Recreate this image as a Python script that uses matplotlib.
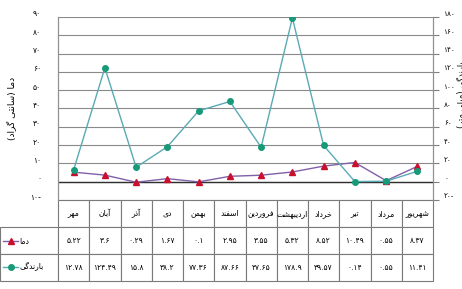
import numpy as np
import matplotlib
matplotlib.use('Agg')
import matplotlib.pyplot as plt
import matplotlib.transforms as mtransforms
from matplotlib.lines import Line2D

plt.rcParams['font.family'] = ['DejaVu Sans']

# داده ها
months = ['مهر', 'آبان', 'آذر', 'دی', 'بهمن', 'اسفند', 'فروردین',
          'اردیبهشت', 'خرداد', 'تیر', 'مرداد', 'شهریور']
temp = [5.22, 3.6, -0.29, 1.67, -0.1, 2.95, 3.55, 5.32, 8.52, 10.49, 0.55, 8.37]
rain = [12.78, 124.49, 15.8, 38.2, 77.36, 87.66, 37.65, 178.9, 39.57, 0.14, 0.55, 11.41]
left_ticks = list(range(-10, 100, 10))
right_ticks = list(range(-20, 200, 20))

# شکل دادن حروف فارسی (matplotlib خودش این کار را نمی کند)
FORMS = {
    'ا': ('\uFE8D', '\uFE8E'), 'آ': ('\uFE81', '\uFE82'),
    'د': ('\uFEA9', '\uFEAA'), 'ذ': ('\uFEAB', '\uFEAC'),
    'ر': ('\uFEAD', '\uFEAE'), 'ز': ('\uFEAF', '\uFEB0'),
    'و': ('\uFEED', '\uFEEE'),
    'ب': ('\uFE8F', '\uFE90', '\uFE91', '\uFE92'),
    'پ': ('\uFB56', '\uFB57', '\uFB58', '\uFB59'),
    'ت': ('\uFE95', '\uFE96', '\uFE97', '\uFE98'),
    'خ': ('\uFEA5', '\uFEA6', '\uFEA7', '\uFEA8'),
    'س': ('\uFEB1', '\uFEB2', '\uFEB3', '\uFEB4'),
    'ش': ('\uFEB5', '\uFEB6', '\uFEB7', '\uFEB8'),
    'ف': ('\uFED1', '\uFED2', '\uFED3', '\uFED4'),
    'گ': ('\uFB92', '\uFB93', '\uFB94', '\uFB95'),
    'ل': ('\uFEDD', '\uFEDE', '\uFEDF', '\uFEE0'),
    'م': ('\uFEE1', '\uFEE2', '\uFEE3', '\uFEE4'),
    'ن': ('\uFEE5', '\uFEE6', '\uFEE7', '\uFEE8'),
    'ه': ('\uFEE9', '\uFEEA', '\uFEEB', '\uFEEC'),
    'ی': ('\uFBFC', '\uFBFD', '\uFBFE', '\uFBFF'),
}


def fa(s):
    out = []
    for i, c in enumerate(s):
        if c not in FORMS:
            out.append({'(': ')', ')': '('}.get(c, c))
            continue
        p = s[i - 1] if i > 0 else ''
        n = s[i + 1] if i < len(s) - 1 else ''
        pj = p in FORMS and len(FORMS[p]) == 4
        nj = n in FORMS and len(FORMS[c]) == 4
        f = FORMS[c]
        if pj and nj:
            out.append(f[3])
        elif pj:
            out.append(f[1])
        elif nj:
            out.append(f[2])
        else:
            out.append(f[0])
    return ''.join(reversed(out))


DIG = str.maketrans('0123456789', '۰۱۲۳۴۵۶۷۸۹')


def num(v):
    t = ('%g' % abs(v)).translate(DIG)
    return t + '-' if v < 0 else t


fig = plt.figure(figsize=(4.62, 2.89), dpi=100)
W, H = 462, 289
ax = fig.add_axes([58 / W, (H - 200) / H, 375 / W, 183 / H])
ax2 = ax.twinx()

x = np.arange(len(months))
ax.plot(x, temp, color='#8060a8', lw=1, marker='^', ms=3.8,
        mfc='#c8102e', mec='#c8102e', zorder=3)
ax2.plot(x, rain, color='#5aaab4', lw=1, marker='o', ms=4,
         mfc='#169a78', mec='#169a78', zorder=3)

ax.set_xlim(-0.5, len(months) - 0.5)
ax.set_ylim(-10, 90)
ax2.set_ylim(-20, 180)
ax.set_yticks(left_ticks)
ax.set_yticklabels([num(v) for v in left_ticks], fontsize=5.5)
ax2.set_yticks(right_ticks)
ax2.set_yticklabels([num(v) for v in right_ticks], fontsize=5.2)
ax.tick_params(axis='y', length=0, pad=12)
ax2.tick_params(axis='y', length=4, width=0.8, color='#808080', pad=4)
ax.tick_params(axis='x', length=0, labelbottom=False)
ax.yaxis.grid(True, color='#8a8a8a', lw=0.8)
ax.axhline(0, color='#303030', lw=1)

# برچسب ها کمی بالاتر از خطوط
up = mtransforms.ScaledTranslation(0, 4 / 100, fig.dpi_scale_trans)
for lab in ax.get_yticklabels() + ax2.get_yticklabels():
    lab.set_transform(lab.get_transform() + up)

for a in (ax, ax2):
    a.spines['top'].set_visible(False)
    a.spines['bottom'].set_visible(False)
    a.spines['left'].set_color('#909090')
    a.spines['right'].set_color('#909090')

ax.set_ylabel(fa('دما (سانتی گراد)'), fontsize=6.5, labelpad=10)
fig.text(457 / W, (H - 95) / H, fa('بارندگی (میلی متر)'), rotation=90,
         fontsize=6, ha='left', va='center')

# جدول زیر نمودار
cells = [[''] + [num(v).replace('-', '') for v in temp],
         [''] + [num(v) for v in rain]]
tab = ax.table(cellText=cells, colLabels=[''] + [fa(m) for m in months],
               cellLoc='center', colWidths=[58] + [375 / 12] * 12,
               bbox=[-58 / 375, -81 / 183, 433 / 375, 81 / 183])
tab.auto_set_font_size(False)
tab.set_fontsize(5.5)
for (r, c), cell in tab.get_celld().items():
    cell.set_edgecolor('#7a7a7a')
    cell.set_linewidth(0.8)
tab[0, 0].visible_edges = ''

# کلید راهنما در ستون اول جدول
for yy, lab, lc, mk, mc in [(241, 'دما', '#8060a8', '^', '#c8102e'),
                            (267, 'بارندگی', '#5aaab4', 'o', '#169a78')]:
    fig.add_artist(Line2D([3 / W, 18 / W], [(H - yy) / H] * 2, color=lc, lw=1,
                          transform=fig.transFigure))
    fig.add_artist(Line2D([10.5 / W], [(H - yy) / H], marker=mk, ms=4,
                          color=mc, transform=fig.transFigure))
    fig.text(19 / W, (H - yy) / H, fa(lab), fontsize=5.5, ha='left', va='center')

fig.savefig('out.png', dpi=100)
